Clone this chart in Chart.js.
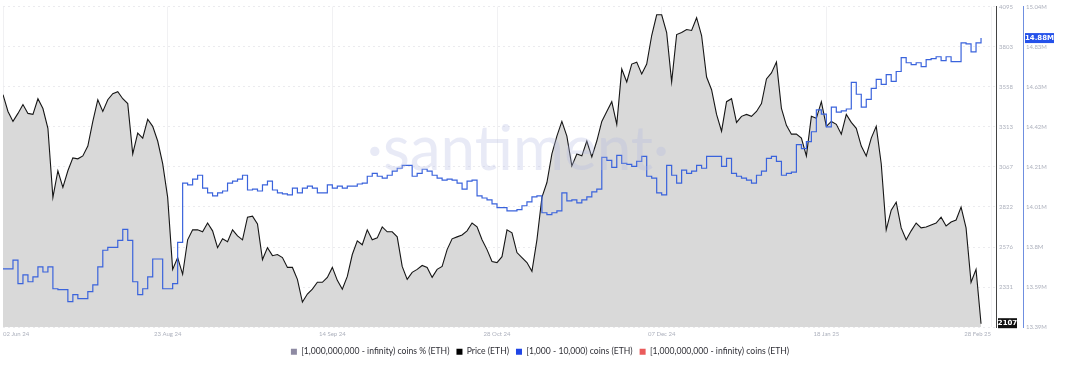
<!DOCTYPE html>
<html>
<head>
<meta charset="utf-8">
<script src="https://cdn.jsdelivr.net/npm/chart.js@4.4.1/dist/chart.umd.min.js"></script>
<style>
    html, body { margin: 0; padding: 0; background: #ffffff; }
    #wrap { width: 1080px; height: 366px; }
</style>
</head>
<body>
<div id="wrap"><canvas id="mainChart" width="1080" height="366"></canvas></div>
<script>
//x tick labels (evenly spaced on the axis)
var xTickLabels = ["02 Jun 24", "23 Aug 24", "14 Sep 24", "28 Oct 24", "07 Dec 24", "18 Jan 25", "28 Feb 25"];
var xTickIndex = [0, 33, 66, 99, 132, 165, 198];
//price (ETH), one point per step
var priceData = [
    3510, 3407, 3346, 3395, 3449, 3395, 3389, 3485, 3425, 3304,
    2881, 3044, 2942, 3044, 3123, 3117, 3135, 3195, 3346, 3479,
    3407, 3479, 3516, 3528, 3485, 3455, 3147, 3274, 3244, 3359,
    3316, 3226, 3087, 2881, 2440, 2512, 2410, 2621, 2682, 2682,
    2670, 2724, 2676, 2573, 2627, 2609, 2682, 2645, 2621, 2760,
    2766, 2718, 2500, 2573, 2524, 2531, 2512, 2452, 2452, 2379,
    2240, 2289, 2319, 2361, 2361, 2391, 2452, 2373, 2319, 2397,
    2531, 2615, 2591, 2682, 2621, 2633, 2700, 2670, 2670, 2639,
    2458, 2379, 2422, 2440, 2464, 2452, 2391, 2440, 2458, 2561,
    2627, 2639, 2651, 2676, 2724, 2700, 2621, 2561, 2488, 2482,
    2518, 2682, 2664, 2543, 2512, 2482, 2428, 2621, 2881, 2972,
    3147, 3256, 3346, 3256, 3074, 3147, 3135, 3226, 3129, 3226,
    3346, 3407, 3467, 3328, 3667, 3588, 3697, 3709, 3637, 3697,
    3872, 3999, 3999, 3890, 3588, 3878, 3890, 3909, 3903, 3981,
    3872, 3618, 3540, 3389, 3286, 3467, 3485, 3340, 3377, 3389,
    3377, 3407, 3455, 3606, 3643, 3709, 3425, 3322, 3268, 3268,
    3244, 3135, 3377, 3365, 3467, 3316, 3346, 3328, 3268, 3389,
    3340, 3304, 3195, 3135, 3244, 3316, 3087, 2682, 2803, 2851,
    2694, 2621, 2676, 2724, 2694, 2700, 2712, 2724, 2760, 2706,
    2730, 2742, 2821, 2694, 2361, 2440, 2107
];
//[1,000 - 10,000) coins holders, millions
var holdersData = [
    13.690, 13.690, 13.735, 13.614, 13.659, 13.624, 13.649, 13.700, 13.674, 13.700,
    13.588, 13.583, 13.583, 13.522, 13.558, 13.537, 13.537, 13.573, 13.608, 13.700,
    13.786, 13.801, 13.801, 13.837, 13.893, 13.837, 13.624, 13.558, 13.588, 13.649,
    13.741, 13.741, 13.588, 13.588, 13.614, 13.827, 14.132, 14.122, 14.152, 14.172,
    14.106, 14.081, 14.066, 14.081, 14.091, 14.132, 14.142, 14.152, 14.172, 14.096,
    14.101, 14.091, 14.122, 14.142, 14.096, 14.081, 14.076, 14.071, 14.106, 14.081,
    14.106, 14.116, 14.106, 14.081, 14.081, 14.122, 14.106, 14.116, 14.106, 14.116,
    14.116, 14.127, 14.132, 14.167, 14.182, 14.167, 14.157, 14.172, 14.193, 14.208,
    14.223, 14.223, 14.167, 14.182, 14.203, 14.193, 14.172, 14.157, 14.147, 14.152,
    14.147, 14.132, 14.101, 14.142, 14.147, 14.066, 14.055, 14.045, 14.025, 14.005,
    14.005, 13.989, 13.989, 13.995, 14.015, 14.035, 14.061, 14.066, 13.979, 13.969,
    13.979, 13.989, 14.081, 14.040, 14.045, 14.030, 14.045, 14.061, 14.086, 14.101,
    14.264, 14.249, 14.213, 14.274, 14.233, 14.228, 14.218, 14.243, 14.269, 14.167,
    14.157, 14.081, 14.071, 14.223, 14.172, 14.132, 14.198, 14.182, 14.193, 14.223,
    14.208, 14.269, 14.269, 14.269, 14.218, 14.259, 14.182, 14.167, 14.157, 14.147,
    14.132, 14.172, 14.193, 14.259, 14.269, 14.243, 14.172, 14.182, 14.188, 14.330,
    14.309, 14.345, 14.396, 14.508, 14.487, 14.421, 14.523, 14.497, 14.503, 14.513,
    14.650, 14.589, 14.523, 14.563, 14.619, 14.665, 14.640, 14.690, 14.655, 14.706,
    14.777, 14.751, 14.741, 14.751, 14.731, 14.767, 14.772, 14.782, 14.762, 14.782,
    14.757, 14.757, 14.853, 14.848, 14.807, 14.853, 14.878
];
//right axis ticks
var priceTickValues = [2086, 2331, 2576, 2822, 3067, 3313, 3558, 3803, 4049];
var priceTickLabels = ["", "2331", "2576", "2822", "3067", "3313", "3558", "3803", "4095"];
var holderTickValues = [13.39, 13.596, 13.803, 14.009, 14.215, 14.421, 14.628, 14.834, 15.04];
var holderTickLabels = ["13.39M", "13.59M", "13.8M", "14.01M", "14.21M", "14.42M", "14.63M", "14.83M", "15.04M"];
//legend
var legendNames = ["[1,000,000,000 - infinity) coins % (ETH)", "Price (ETH)",
    "[1,000 - 10,000) coins (ETH)", "[1,000,000,000 - infinity) coins (ETH)"];
var legendColors = ["#8e8aa3", "#000000", "#1f45e6", "#ea5b5b"];

var TICK_COLOR = "#adb1bd";
var LAST_INDEX = 199;

function toPoints(values) {
    return values.map(function (v, i) { return { x: i, y: v }; });
}

//watermark + last value badges
var overlayPlugin = {
    id: "overlay",
    afterDatasetsDraw: function (chart) {
        var ctx = chart.ctx;
        ctx.save();
        ctx.font = "62px Lato";
        ctx.fillStyle = "rgba(178, 184, 226, 0.3)";
        ctx.textAlign = "center";
        ctx.textBaseline = "middle";
        ctx.fillText("\u00b7santiment\u00b7", 518, 150);
        ctx.restore();
    },
    afterDraw: function (chart) {
        var ctx = chart.ctx;
        var area = chart.chartArea;
        var yP = chart.scales.y;
        var yH = chart.scales.y1;
        ctx.save();
        ctx.font = "bold 7px 'DejaVu Sans'";
        ctx.textBaseline = "middle";
        ctx.textAlign = "center";
        //price badge
        var py = Math.min(yP.getPixelForValue(priceData[priceData.length - 1]), area.bottom - 4);
        ctx.fillStyle = "#111111";
        ctx.fillRect(yP.left + 2, py - 5, 19, 10);
        ctx.fillStyle = "#ffffff";
        ctx.fillText(String(priceData[priceData.length - 1]), yP.left + 11.5, py);
        //holders badge
        var hy = yH.getPixelForValue(holdersData[holdersData.length - 1]);
        ctx.fillStyle = "#2552ea";
        ctx.fillRect(yH.left + 2, hy - 5, 29, 10);
        ctx.fillStyle = "#ffffff";
        ctx.fillText(holdersData[holdersData.length - 1].toFixed(2) + "M", yH.left + 16.5, hy);
        ctx.restore();
    }
};

var config = {
    type: "line",
    data: {
        datasets: [
            {
                label: legendNames[0],
                data: [],
                borderColor: legendColors[0],
                order: 3
            },
            {
                label: legendNames[1],
                data: toPoints(priceData),
                borderColor: "#161616",
                borderWidth: 1.1,
                backgroundColor: "#d9d9d9",
                fill: "start",
                pointRadius: 0,
                tension: 0,
                yAxisID: "y",
                order: 2
            },
            {
                label: legendNames[2],
                data: toPoints(holdersData),
                borderColor: "#3a63dc",
                borderWidth: 1.2,
                fill: false,
                stepped: "before",
                pointRadius: 0,
                yAxisID: "y1",
                order: 1
            },
            {
                label: legendNames[3],
                data: [],
                borderColor: legendColors[3],
                order: 3
            }
        ]
    },
    options: {
        responsive: false,
        animation: false,
        layout: { padding: { top: 4, left: 0, right: 0, bottom: 0 } },
        scales: {
            x: {
                type: "linear",
                min: 0,
                max: LAST_INDEX,
                afterBuildTicks: function (scale) {
                    scale.ticks = xTickIndex.map(function (v) { return { value: v }; });
                },
                ticks: {
                    autoSkip: false,
                    maxRotation: 0,
                    align: "inner",
                    padding: 3,
                    color: TICK_COLOR,
                    font: { family: "Lato", size: 6 },
                    callback: function (value) {
                        var k = xTickIndex.indexOf(value);
                        return k >= 0 ? xTickLabels[k] : "";
                    }
                },
                grid: { color: "#f1f1f3", drawTicks: false },
                border: { display: false }
            },
            y: {
                position: "right",
                min: priceTickValues[0],
                max: priceTickValues[priceTickValues.length - 1],
                afterBuildTicks: function (scale) {
                    scale.ticks = priceTickValues.map(function (v) { return { value: v }; });
                },
                afterFit: function (scale) { scale.width = 27; },
                ticks: {
                    padding: 3,
                    color: TICK_COLOR,
                    font: { family: "Lato", size: 6 },
                    callback: function (value, index) { return priceTickLabels[index]; }
                },
                grid: { color: "#ebebee", drawTicks: false },
                border: { display: true, color: "#444444", width: 1, dash: [2, 3] }
            },
            y1: {
                position: "right",
                min: holderTickValues[0],
                max: holderTickValues[holderTickValues.length - 1],
                afterBuildTicks: function (scale) {
                    scale.ticks = holderTickValues.map(function (v) { return { value: v }; });
                },
                afterFit: function (scale) { scale.width = 57; },
                ticks: {
                    padding: 3,
                    color: TICK_COLOR,
                    font: { family: "Lato", size: 6 },
                    callback: function (value, index) { return holderTickLabels[index]; }
                },
                grid: { display: false, drawTicks: false },
                border: { display: true, color: "#6f8fe0", width: 1 }
            }
        },
        plugins: {
            legend: {
                position: "bottom",
                labels: {
                    boxWidth: 6,
                    boxHeight: 6,
                    padding: 7,
                    color: "#2f2f36",
                    font: { family: "Lato", size: 8.6 },
                    generateLabels: function () {
                        return legendNames.map(function (name, i) {
                            return {
                                text: name,
                                fillStyle: legendColors[i],
                                strokeStyle: legendColors[i],
                                lineWidth: 0,
                                fontColor: "#2f2f36",
                                datasetIndex: i
                            };
                        });
                    }
                }
            },
            tooltip: { enabled: false }
        }
    },
    plugins: [overlayPlugin]
};

new Chart(document.getElementById("mainChart"), config);
</script>
</body>
</html>
